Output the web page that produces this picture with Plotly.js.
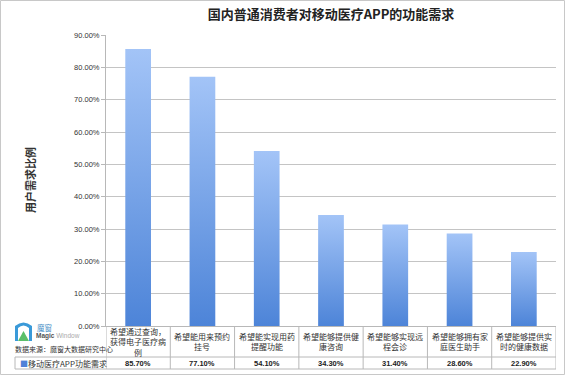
<!DOCTYPE html>
<html>
<head>
<meta charset="utf-8">
<script src="https://cdn.plot.ly/plotly-3.0.1.min.js"></script>
<style>
html,body{margin:0;padding:0;background:#fff;}
#chart{width:565px;height:375px;}
</style>
</head>
<body>
<div id="chart"></div>
<script>
// ---- data ----
const categories = [
  "希望通过查询，<br>获得电子医疗病<br>例",
  "希望能用来预约<br>挂号",
  "希望能实现用药<br>提醒功能",
  "希望能够提供健<br>康咨询",
  "希望能够实现远<br>程会诊",
  "希望能够拥有家<br>庭医生助手",
  "希望能够提供实<br>时的健康数据"
];
const values = [0.857, 0.771, 0.541, 0.343, 0.314, 0.286, 0.229];
const seriesName = "移动医疗APP功能需求";
const chartTitle = "国内普通消费者对移动医疗APP的功能需求";
const yTitle = "用户需求比例";
const sourceText = "数据来源：魔窗大数据研究中心";

// ---- layout geometry ----
const W = 565, H = 375;
const L = 106, R = 9, T = 35, B = 49;
const pw = W - L - R, ph = H - T - B;
const px = x => (x - L) / pw;          // pixel -> paper x
const py = y => (H - B - y) / ph;      // pixel -> paper y

const font = '"Noto Sans CJK SC", "Noto Sans", sans-serif';
const idx = categories.map((_, i) => i);

const shapes = [];
const annotations = [];
const lineStyle = {color: '#b8b8b8', width: 1};

// table horizontal lines
shapes.push({type:'line', xref:'paper', yref:'paper', x0:px(15), x1:px(556), y0:py(357), y1:py(357), line:lineStyle});
shapes.push({type:'line', xref:'paper', yref:'paper', x0:px(15), x1:px(556), y0:py(369), y1:py(369), line:lineStyle});
// legend cell left border
shapes.push({type:'line', xref:'paper', yref:'paper', x0:px(15), x1:px(15), y0:py(357), y1:py(369), line:lineStyle});
// vertical boundaries between categories (data coords)
for (let i = 0; i <= categories.length; i++) {
  shapes.push({type:'line', xref:'x', yref:'paper', x0:i-0.5, x1:i-0.5, y0:py(326), y1:py(369), line:lineStyle});
}
// outer border
shapes.push({type:'rect', xref:'paper', yref:'paper', x0:px(0.5), x1:px(564.5), y0:py(0.5), y1:py(374.5), line:{color:'#c8c8c8', width:1}, fillcolor:'rgba(0,0,0,0)'});

// category labels and values
idx.forEach(i => {
  annotations.push({xref:'x', yref:'paper', x:i, y:py(341.5), text:categories[i], showarrow:false,
    font:{family:font, size:8, color:'#333'}, align:'center', yanchor:'middle'});
  annotations.push({xref:'x', yref:'paper', x:i, y:py(363.5), text:'<b>'+(values[i]*100).toFixed(2)+'%</b>', showarrow:false,
    font:{family:'"Liberation Sans", sans-serif', size:7.5, color:'#222'}, yanchor:'middle'});
});
// legend cell
annotations.push({xref:'paper', yref:'paper', x:px(18), y:py(363.5), xanchor:'left', yanchor:'middle', showarrow:false,
  text:'<span style="color:#4f81d8">■</span>' + seriesName, font:{family:font, size:8, color:'#333'}});
// source
annotations.push({xref:'paper', yref:'paper', x:px(13), y:py(349), xanchor:'left', yanchor:'middle', showarrow:false,
  text:sourceText, font:{family:font, size:7, color:'#333'}});
// logo
shapes.push({type:'path', xref:'paper', yref:'paper',
  path:`M ${px(15)},${py(341)} L ${px(15)},${py(326)} Q ${px(23.5)},${py(319)} ${px(32)},${py(326)} L ${px(32)},${py(341)} L ${px(29)},${py(341)} L ${px(29)},${py(328)} Q ${px(23.5)},${py(323)} ${px(18)},${py(328)} L ${px(18)},${py(341)} Z`,
  fillcolor:'#3a9ad9', line:{width:0}});
shapes.push({type:'path', xref:'paper', yref:'paper',
  path:`M ${px(18)},${py(341)} L ${px(23.5)},${py(331)} L ${px(29)},${py(341)} Z`,
  fillcolor:'#5bbf6a', line:{width:0}});
annotations.push({xref:'paper', yref:'paper', x:px(35), y:py(327), xanchor:'left', yanchor:'middle', showarrow:false,
  text:'魔窗', font:{family:font, size:7.5, color:'#4a8fc8'}});
annotations.push({xref:'paper', yref:'paper', x:px(34), y:py(336), xanchor:'left', yanchor:'middle', showarrow:false,
  text:'<b>Magic</b> <span style="color:#aaa">Window</span>', font:{family:'"Liberation Sans", sans-serif', size:6.5, color:'#555'}});
// y title
annotations.push({xref:'paper', yref:'paper', x:px(20), y:py(180), textangle:-90, showarrow:false,
  text:'<b>'+yTitle+'</b>', font:{family:font, size:11, color:'#333'}});

const trace = {
  type:'bar', x:idx, y:values, name:seriesName, width:0.4,
  marker:{color:'#78a4ea', line:{width:0}},
  hoverinfo:'none'
};

const layout = {
  width:W, height:H,
  margin:{l:L, r:R, t:T, b:B, pad:0},
  paper_bgcolor:'#fff', plot_bgcolor:'#fff',
  showlegend:false,
  title:{text:'<b>'+chartTitle+'</b>', x:0.5, xref:'paper', y:1-14/H, yanchor:'middle',
    font:{family:font, size:13, color:'#222'}},
  xaxis:{range:[-0.5, categories.length-0.5], showticklabels:false, showgrid:false, zeroline:false,
    showline:true, linecolor:'#b8b8b8', linewidth:1, ticks:''},
  yaxis:{range:[0, 0.9], dtick:0.1, tickformat:'.2%', showgrid:true, gridcolor:'#c4c4c4', gridwidth:1,
    zeroline:false, showline:true, linecolor:'#b8b8b8', linewidth:1, ticks:'outside', ticklen:4, tickcolor:'#b8b8b8',
    tickfont:{family:'"Liberation Sans", sans-serif', size:7.5, color:'#333'}},
  shapes:shapes, annotations:annotations
};

Plotly.newPlot('chart', [trace], layout, {staticPlot:true, displayModeBar:false}).then(gd => {
  const svg = gd.querySelector('svg.main-svg');
  const defs = svg.querySelector('defs');
  const ns = 'http://www.w3.org/2000/svg';
  const g = document.createElementNS(ns, 'linearGradient');
  g.setAttribute('id', 'barGrad');
  g.setAttribute('x1', '0'); g.setAttribute('y1', '0'); g.setAttribute('x2', '0'); g.setAttribute('y2', '1');
  [['0', '#a3c4f7'], ['1', '#4d84d8']].forEach(([o, c]) => {
    const s = document.createElementNS(ns, 'stop');
    s.setAttribute('offset', o); s.setAttribute('stop-color', c);
    g.appendChild(s);
  });
  defs.appendChild(g);
  gd.querySelectorAll('.bars .point path').forEach(p => { p.style.fill = 'url(#barGrad)'; });
});
</script>
</body>
</html>
